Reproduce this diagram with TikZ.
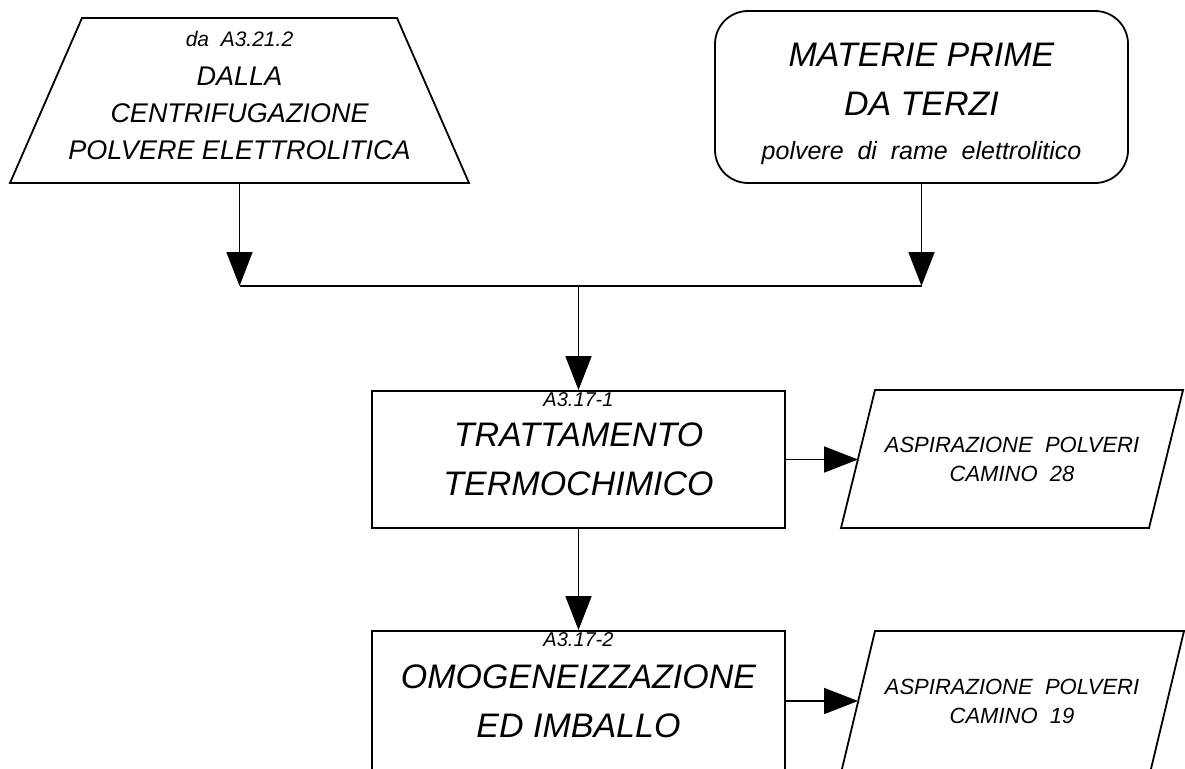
\documentclass[tikz,border=0pt]{standalone}
\usepackage{fontspec}
\setmainfont{Liberation Sans}
\usepackage{tikz}
\usetikzlibrary{calc,arrows.meta}
\tikzstyle{outline}=[line width=1.8pt,line join=miter]
\tikzstyle{procbox}=[draw,line width=1.8pt,minimum width=413pt,minimum height=137pt,align=center,inner sep=0pt]
\tikzstyle{flow}=[-{Triangle[length=34pt,width=26pt]},line width=1.8pt]
\newcommand{\bigtxt}{\fontsize{34}{49}\selectfont\itshape}
\newcommand{\midtxt}{\fontsize{27}{37}\selectfont\itshape}
\newcommand{\codetxt}{\fontsize{20}{22}\selectfont\itshape}
\newcommand{\asptxt}{\fontsize{22}{29}\selectfont\itshape}

\begin{document}
\begin{tikzpicture}[x=1pt,y=-1pt]
        \useasboundingbox (0,0) rectangle (1185,768);
        % sorgenti
        \draw[outline] (82,18) -- (397,18) -- (469,183) -- (10,183) -- cycle;
        \coordinate (srcbot) at (239.5,183);
        \node[align=center,inner sep=0pt,font=\midtxt] (srctxt) at (239.5,96)
          {{\fontsize{21}{37}\selectfont da\ \ A3.21.2}\\[2pt]
           DALLA\\CENTRIFUGAZIONE\\POLVERE ELETTROLITICA};
        \node[draw,line width=1.8pt,rounded corners=33pt,minimum width=413pt,minimum height=172pt] (raw) at (921.5,97) {};
        \node[align=center,inner sep=0pt,font=\bigtxt] (rawtxt) at (921.5,104)
          {MATERIE PRIME\\DA TERZI\\[-5pt]
           {\fontsize{25}{30}\selectfont polvere\ \ di\ \ rame\ \ elettrolitico}};
        % fasi
        \node[procbox,font=\bigtxt,label={[anchor=north,inner sep=2pt,font=\codetxt]north:A3.17-1}] (tratt) at (578.5,459.5)
          {TRATTAMENTO\\TERMOCHIMICO};
        \node[procbox,font=\bigtxt,minimum height=140pt,label={[anchor=north,inner sep=2pt,font=\codetxt]north:A3.17-2}] (omog) at (578.5,701)
          {OMOGENEIZZAZIONE\\ED IMBALLO};
        % emissioni
        \draw[outline] (875,390) -- (1183,390) -- (1149,528) -- (841,528) -- cycle;
        \coordinate (asp1w) at (858,459.5);
        \node[align=center,inner sep=0pt,font=\asptxt] (asp1txt) at (1012,459.5)
          {ASPIRAZIONE\ \ POLVERI\\CAMINO\ \ 28};
        \draw[outline] (875,631) -- (1184,631) -- (1150,773) -- (841,773) -- cycle;
        \coordinate (asp2w) at (858,701);
        \node[align=center,inner sep=0pt,font=\asptxt] (asp2txt) at (1012,701)
          {ASPIRAZIONE\ \ POLVERI\\CAMINO\ \ 19};
        % collegamenti
        \coordinate (srcjoin) at (239.5,286);
        \coordinate (rawjoin) at (raw.south |- srcjoin);
        \coordinate (midjoin) at (tratt.north |- srcjoin);
        \draw[flow] (srcbot) -- (srcjoin);
        \draw[flow] (raw.south) -- (rawjoin);
        \draw[outline] (srcjoin) -- (rawjoin);
        \draw[flow] (midjoin) -- (tratt.north);
        \draw[flow] (tratt.south) -- (omog.north);
        \draw[flow] (tratt.east) -- (asp1w);
        \draw[flow] (omog.east |- asp2w) -- (asp2w);
\end{tikzpicture}
\end{document}
